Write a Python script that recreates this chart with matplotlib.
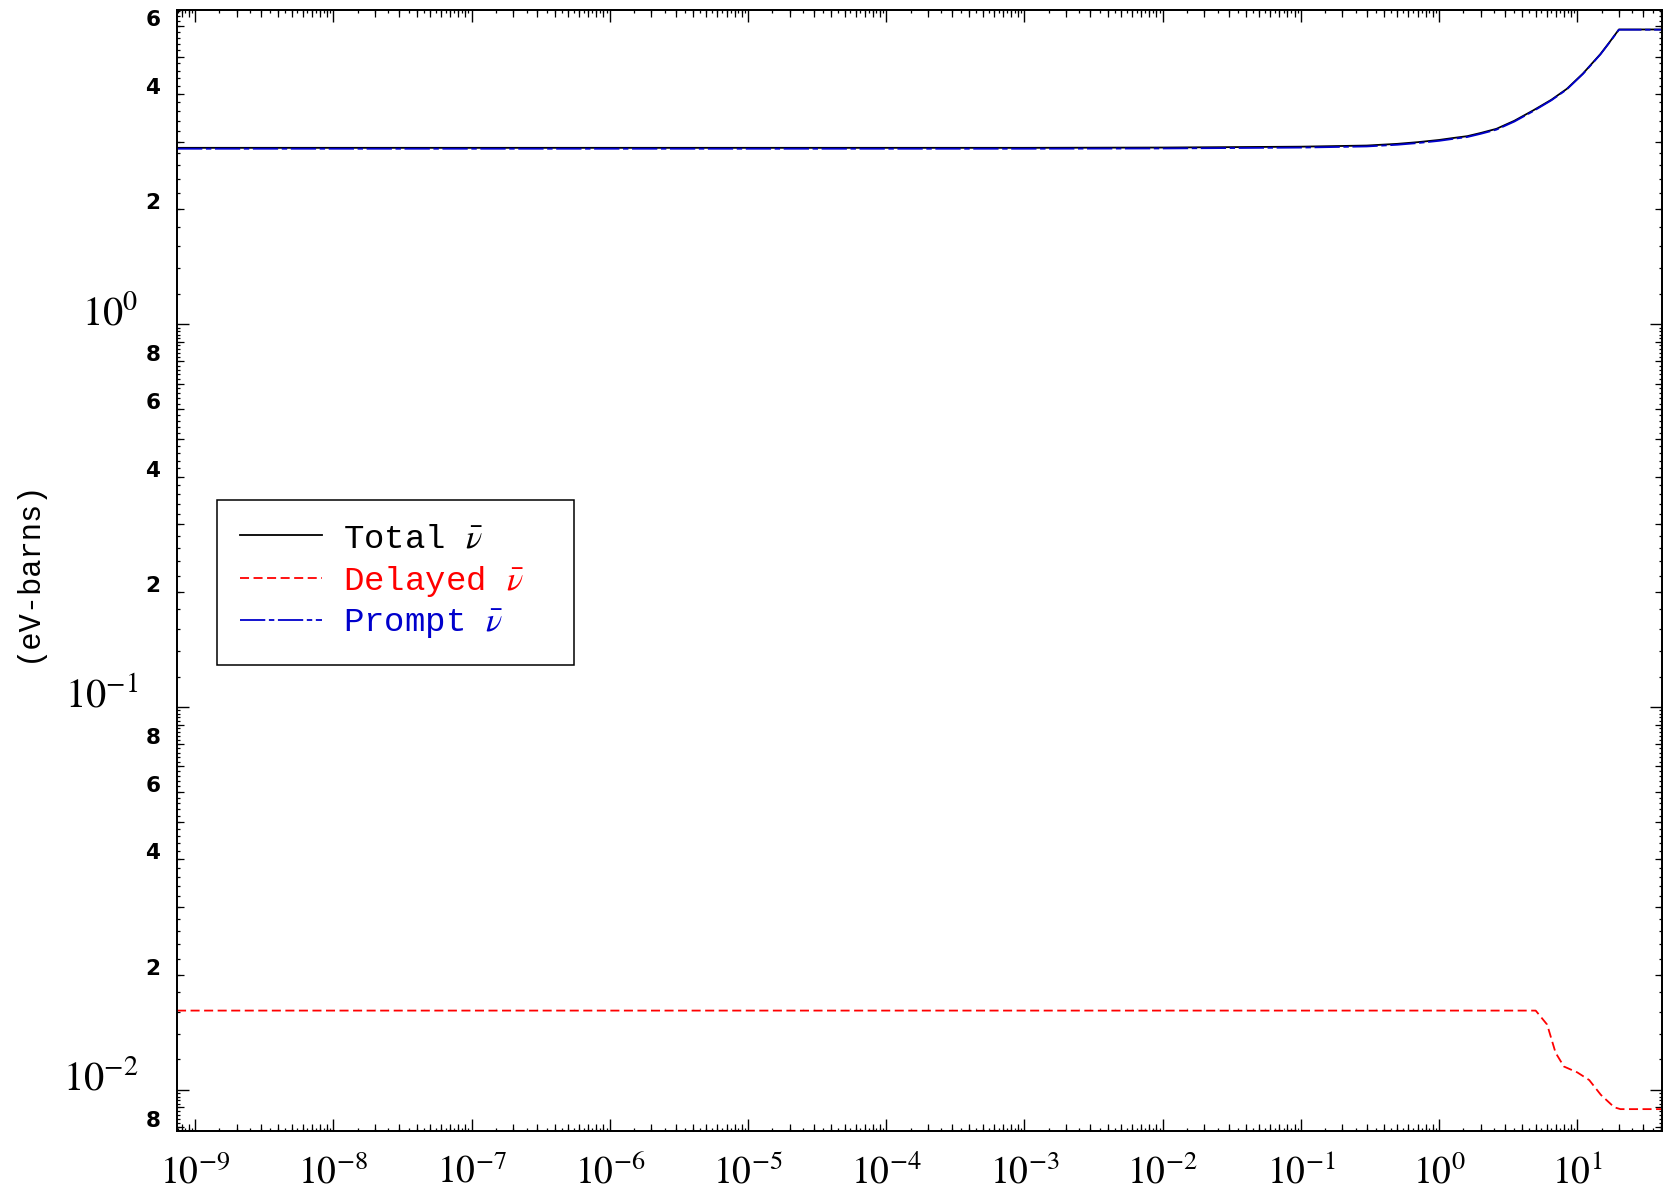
import numpy as np
import matplotlib
matplotlib.use("Agg")
import matplotlib.pyplot as plt
from matplotlib.ticker import FixedLocator, FuncFormatter, NullFormatter, NullLocator

# ---- data ----
energy_total = [7.4e-10, 1e-6, 1e-3, 1e-2, 0.1, 0.3, 0.5, 0.7, 1.0, 1.3, 1.6, 2.0, 2.6, 3.5, 4.8, 6.5, 8.4, 11.0, 14.7, 17.0, 20.0, 41.0]
nubar_total = [2.89, 2.89, 2.89, 2.895, 2.91, 2.93, 2.96, 2.99, 3.03, 3.07, 3.10, 3.16, 3.24, 3.40, 3.62, 3.86, 4.12, 4.52, 5.08, 5.44, 5.89, 5.89]
nubar_prompt = [2.874, 2.874, 2.874, 2.879, 2.894, 2.914, 2.944, 2.974, 3.014, 3.054, 3.084, 3.144, 3.224, 3.384, 3.604, 3.847, 4.108, 4.509, 5.070, 5.431, 5.881, 5.881]
energy_delayed = [7.4e-10, 5.0, 6.05, 6.96, 8.0, 10.0, 12.2, 14.8, 18.5, 20.5, 41.0]
nubar_delayed = [0.0161, 0.0161, 0.0148, 0.0125, 0.0115, 0.0111, 0.0106, 0.0097, 0.0090, 0.0089, 0.0089]

series_labels = [r"Total $\bar{\nu}$", r"Delayed $\bar{\nu}$", r"Prompt $\bar{\nu}$"]
y_label = "(eV-barns)"
x_decades = list(range(-9, 2))
y_decades = [-2, -1, 0]
y_minor_labelled = [2, 4, 6, 8]

XMIN, XMAX = 7.4e-10, 41.0
YMIN, YMAX = 7.8e-3, 6.62

plt.rcParams["mathtext.fontset"] = "stix"

fig = plt.figure(figsize=(16.67, 11.96), dpi=100)
ax = fig.add_axes([0.1062, 0.0543, 0.997 - 0.1062, 0.9916 - 0.0543])

lw = 1.3
ax.plot(energy_total, nubar_total, color="black", lw=lw, label=series_labels[0])
ax.plot(energy_delayed, nubar_delayed, color="red", lw=lw, dashes=(5, 2.5), label=series_labels[1])
ax.plot(energy_total, nubar_prompt, color="#0000cc", lw=lw, dashes=(14, 2, 3, 2), label=series_labels[2])

ax.set_xscale("log")
ax.set_yscale("log")
ax.set_xlim(XMIN, XMAX)
ax.set_ylim(YMIN, YMAX)

for s in ax.spines.values():
    s.set_linewidth(1.3)

def pow_fmt(v, pos):
    e = int(round(np.log10(v)))
    return r"$10^{%d}$" % e

# major ticks (decades)
ax.xaxis.set_major_locator(FixedLocator([10.0 ** e for e in x_decades]))
ax.xaxis.set_major_formatter(FuncFormatter(pow_fmt))
ax.yaxis.set_major_locator(FixedLocator([10.0 ** e for e in y_decades]))
ax.yaxis.set_major_formatter(FuncFormatter(pow_fmt))

# small minor ticks
x_sub = np.arange(1.5, 10.0, 0.5)
y_sub = np.arange(1.2, 10.0, 0.2)
x_min_locs = [s * 10.0 ** e for e in range(-10, 2) for s in x_sub if XMIN <= s * 10.0 ** e <= XMAX]
y_min_locs = [s * 10.0 ** e for e in range(-3, 1) for s in y_sub if YMIN <= s * 10.0 ** e <= YMAX]
ax.xaxis.set_minor_locator(FixedLocator(x_min_locs))
ax.yaxis.set_minor_locator(FixedLocator(y_min_locs))
ax.xaxis.set_minor_formatter(NullFormatter())
ax.yaxis.set_minor_formatter(NullFormatter())

ax.tick_params(which="major", direction="in", length=8.6, width=1.0, top=True, right=True,
               labelsize=27, color="black")
ax.tick_params(which="minor", direction="in", length=2.4, width=0.9, top=True, right=True)
ax.tick_params(axis="x", which="major", pad=17)
ax.tick_params(axis="y", which="major", pad=28)
ax.tick_params(axis="y", which="major", labelsize=29)

# medium ticks at integer multiples
x_int_locs = [s * 10.0 ** e for e in range(-10, 2) for s in range(2, 10) if XMIN <= s * 10.0 ** e <= XMAX]
y_int_locs = [s * 10.0 ** e for e in range(-3, 1) for s in range(2, 10) if YMIN <= s * 10.0 ** e <= YMAX]

ident = (lambda v: v, lambda v: v)
for loc in ("bottom", "top"):
    sx = ax.secondary_xaxis(loc, functions=ident)
    sx.xaxis.set_major_locator(FixedLocator(x_int_locs))
    sx.xaxis.set_major_formatter(NullFormatter())
    sx.xaxis.set_minor_locator(NullLocator())
    sx.tick_params(which="major", direction="in", length=4.7, width=0.9)
    for s in sx.spines.values():
        s.set_linewidth(1.3)

def minor_fmt(v, pos):
    e = np.floor(np.log10(v) + 1e-9)
    m = int(round(v / 10.0 ** e))
    return str(m) if m in y_minor_labelled else ""

for loc in ("left", "right"):
    sy = ax.secondary_yaxis(loc, functions=ident)
    sy.yaxis.set_major_locator(FixedLocator(y_int_locs))
    sy.yaxis.set_minor_locator(NullLocator())
    if loc == "left":
        sy.yaxis.set_major_formatter(FuncFormatter(minor_fmt))
        sy.tick_params(which="major", direction="in", length=4.7, width=0.9, pad=12, labelsize=15.5)
        for lab in sy.get_yticklabels():
            lab.set_verticalalignment("baseline")
            lab.set_fontfamily("DejaVu Sans")
            lab.set_fontweight("bold")
    else:
        sy.yaxis.set_major_formatter(NullFormatter())
        sy.tick_params(which="major", direction="in", length=4.7, width=0.9)
    for s in sy.spines.values():
        s.set_linewidth(1.3)

for lab in ax.get_yticklabels():
    lab.set_verticalalignment("baseline")

ax.set_ylabel(y_label, fontsize=22, family="Liberation Mono", labelpad=14)

# legend box: left 217, top 500, right 574, bottom 663 (px)
ax_w, ax_h = 1485.0, 1121.0
lx0 = (217 - 177) / ax_w
lw_ = (574 - 217) / ax_w
ltop = 1 - (500 - 10) / ax_h
leg = ax.legend(loc="upper left", bbox_to_anchor=(lx0, ltop - 0.2, lw_, 0.2), mode="expand",
                borderaxespad=0,
                prop={"family": "Liberation Mono", "size": 24.5}, labelcolor="linecolor",
                frameon=True, fancybox=False, framealpha=1, edgecolor="black",
                handlelength=2.4, handletextpad=0.62, labelspacing=0.28, borderpad=0.68)
leg.get_frame().set_linewidth(1.1)

fig.savefig("out.png", dpi=100)
